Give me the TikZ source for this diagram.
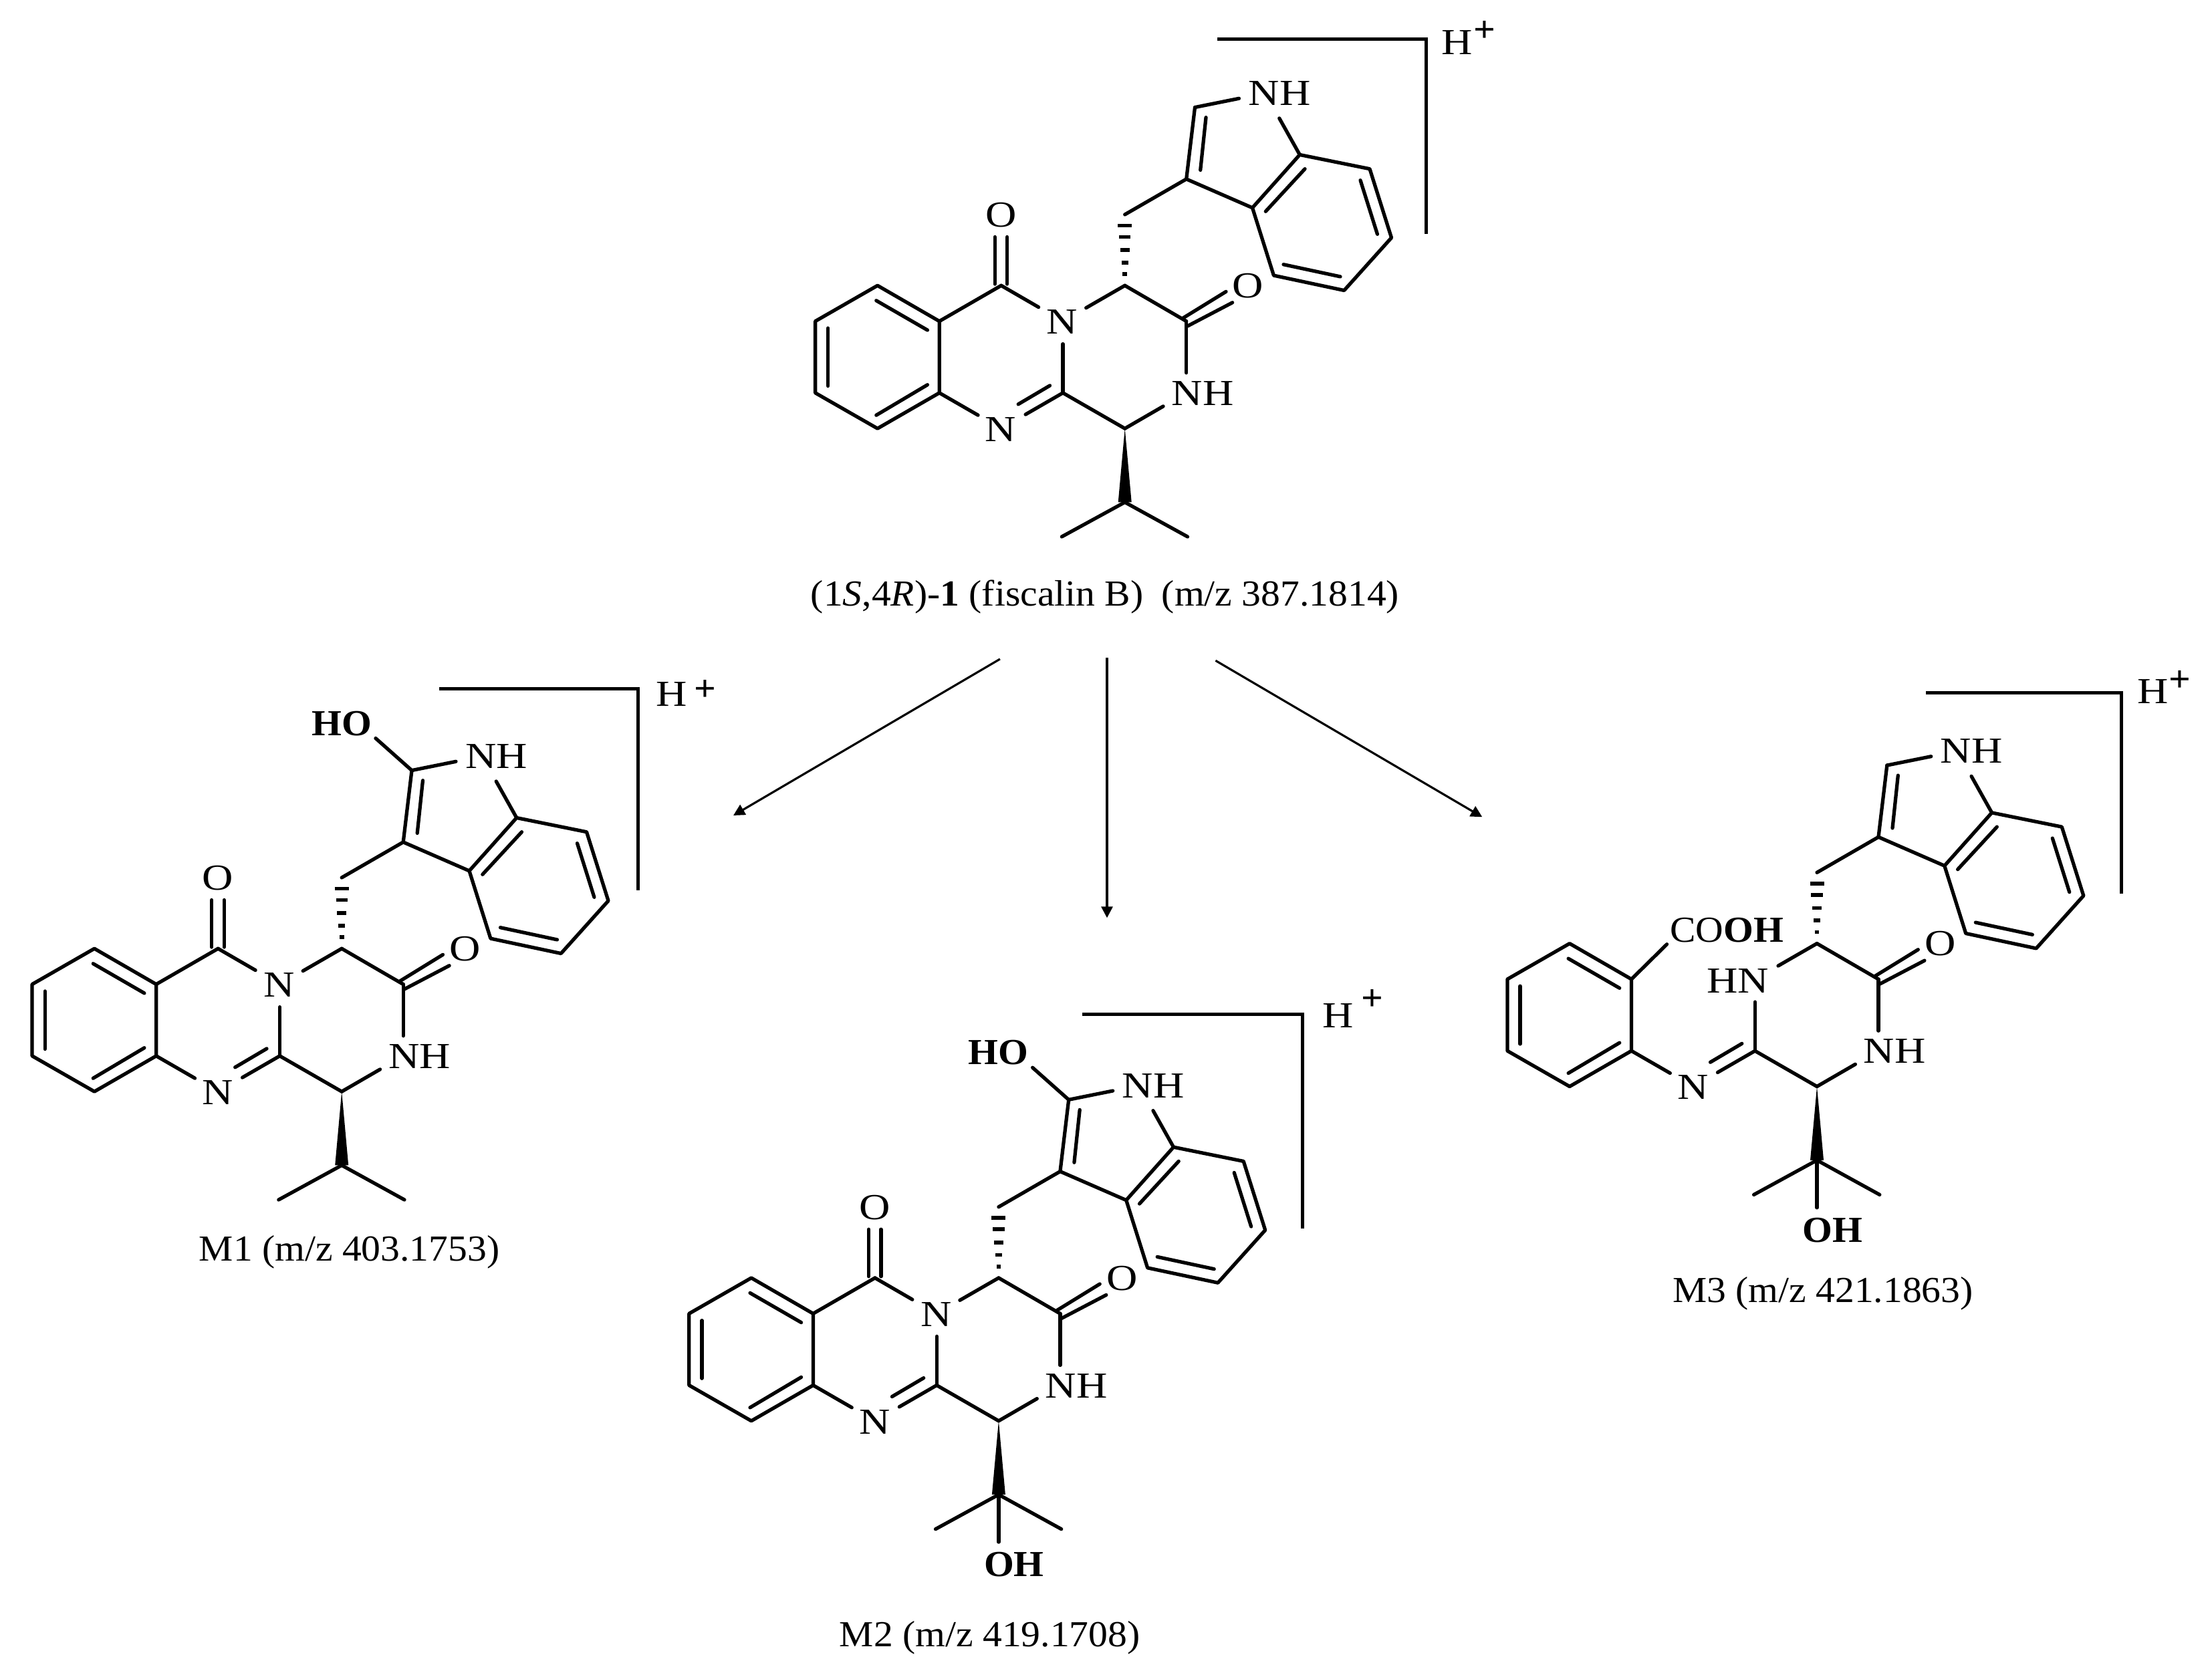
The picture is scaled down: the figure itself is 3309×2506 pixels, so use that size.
\documentclass[tikz,border=0pt]{standalone}
\usepackage{fontspec}
\setmainfont[FakeStretch=1.05]{Liberation Serif}
\newfontfamily\atomfont[FakeStretch=1.17]{Liberation Serif}
\usetikzlibrary{arrows.meta}
\newcommand\chemsize{\fontsize{15.6}{18}\selectfont}
\tikzset{
  bond/.style={line width=1.5pt,line cap=round,line join=round},
  gap/.style={shorten >=#1cm},
  hashbar/.style={line width=1.6pt,line cap=butt},
  atomlabel/.style={font=\chemsize\atomfont,inner sep=0pt,text height=0.37cm,text depth=0pt},
  boldlabel/.style={font=\chemsize\bfseries,inner sep=0pt,text height=0.37cm,text depth=0pt},
  caption/.style={font=\chemsize,inner sep=0pt,text height=0.37cm,text depth=0pt},
  pluslabel/.style={font=\chemsize\bfseries,inner sep=0pt},
  bracket/.style={line width=1.5pt,line join=miter,line cap=butt},
  reaction/.style={line width=0.9pt,-{Triangle[length=0.17cm,width=0.17cm]}}
}
% atom positions of the shared skeleton (local frame = upper molecule)
\newcommand\molatoms{%
  \coordinate (a1) at (1312.7,427.2);
  \coordinate (a2) at (1405.2,480.6);
  \coordinate (a3) at (1405.2,587.8);
  \coordinate (a4) at (1312.7,641.1);
  \coordinate (a5) at (1219.6,587.8);
  \coordinate (a6) at (1219.6,480.6);
  \coordinate (c7) at (1497.7,427.2);
  \coordinate (o7) at (1497.5,321);
  \coordinate (n3) at (1590,480.6);
  \coordinate (c2) at (1590,587.8);
  \coordinate (n1) at (1497.7,641.1);
  \coordinate (ch) at (1682.7,641.1);
  \coordinate (cs) at (1682.7,427.2);
  \coordinate (co) at (1774.7,480.6);
  \coordinate (nh) at (1774.7,587.8);
  \coordinate (ch2) at (1682.7,321);
  \coordinate (i3) at (1774.7,267.9);
  \coordinate (i2) at (1787.5,160.6);
  \coordinate (in) at (1892.7,139.4);
  \coordinate (i7a) at (1944.3,231.5);
  \coordinate (i3a) at (1873.5,310.9);
  \coordinate (i4) at (1905.4,412.1);
  \coordinate (i5) at (2010.7,434.5);
  \coordinate (i6) at (2081.5,355.7);
  \coordinate (i7) at (2049,252.7);
  \coordinate (ip) at (1682.7,751.4);
  \coordinate (me1) at (1588.3,803);
  \coordinate (me2) at (1776.5,803);
}
\newcommand\molcore{%
  \draw[bond] (a1)--(a2)--(a3)--(a4)--(a5)--(a6)--cycle;
  \draw[bond] (1310.8,449.7)--(1387.4,493.9);
  \draw[bond] (1387.4,575.7)--(1310.8,621.2);
  \draw[bond] (1238.7,490.9)--(1238.7,577.5);
  \draw[bond,gap=0.40] (a3)--(n1);
  \draw[bond,gap=0.42] (c2)--(n1);
  \draw[bond] (1570.5,576.9)--(1523.2,604.8);
  \draw[bond] (c2)--(ch);
  \draw[bond,gap=0.34] (c2)--(n3);
  \draw[bond,gap=0.40] (cs)--(n3);
  \draw[bond] (cs)--(co);
  \draw[bond,gap=0.30] (co)--(nh);
  \draw[bond,gap=0.40] (ch)--(nh);
  \draw[bond] (1770,475.7)--(1834,436.3);
  \draw[bond] (1776.6,487.8)--(1843.6,452.7);
  \draw[bond] (ch2)--(i3)--(i2);
  \draw[bond,gap=0.40] (i2)--(in);
  \draw[bond,gap=0.43] (i7a)--(in);
  \draw[bond] (i3)--(i3a)--(i4)--(i5)--(i6)--(i7)--(i7a)--(i3a);
  \draw[bond] (1804,175.7)--(1795.7,254.5);
  \draw[bond] (1952,252.7)--(1893.3,316.3);
  \draw[bond] (1920,395.7)--(2005,413.9);
  \draw[bond] (2060.4,350.3)--(2035,269.7);
  \foreach \yy/\ww in {337.5/10.5,354.5/8.7,374/6.9,392.7/5,410/3.3}
    \draw[hashbar] (1682.7-\ww,\yy)--(1682.7+\ww,\yy);
  \fill ([xshift=-0.1cm]ip)--(ch)--([xshift=0.1cm]ip)--cycle;
  \draw[bond] (me1)--(ip)--(me2);
  \node[atomlabel] (lbln1) at (1497,642) {N};
  \node[atomlabel] (lblnh) at (1799,588) {NH};
  \node[atomlabel] (lblo2) at (1867,427) {O};
  \node[atomlabel] (lblin) at (1914,139) {NH};
}
\newcommand\molring{%
  \draw[bond] (a2)--(c7);
  \draw[bond,gap=0.42] (c7)--(n3);
  \draw[bond] (1488.2,425)--(1488.2,354.5);
  \draw[bond] (1506.7,425)--(1506.7,354.5);
  \node[atomlabel] (lbln3) at (1589,481) {N};
  \node[atomlabel] (lblo7) at (o7) {O};
}
\newcommand\molho{%
  \coordinate (oh2) at (1706.5,88.6);
  \draw[bond,gap=0.36] (i2)--(oh2);
  \node[boldlabel] (lblho) at (1682.5,89.6) {HO};
}
\newcommand\molcoh{%
  \coordinate (oh3) at (1682.7,855.4);
  \draw[bond,gap=0.33] (ip)--(oh3);
  \node[boldlabel] (lbloh) at (1705.7,855.4) {OH};
}
\begin{document}
\begin{tikzpicture}[x=0.01cm,y=-0.01cm]
\useasboundingbox (0,0) rectangle (3309,2506);
% parent
\begin{scope}[name prefix=p-]
  \molatoms\molcore\molring
\end{scope}
\coordinate (pb1) at (1821.2,58.8);
\coordinate (pb2) at (2133.2,58.8);
\coordinate (pb3) at (2133.2,350.3);
\draw[bracket] (pb1)--(pb2)--(pb3);
\node[atomlabel] (ph) at (2180,63) {H};
\node[pluslabel] (pp) at (2221,47) {+};
\node[caption] (pcap) at (1653,888) {(1\textit{S},4\textit{R})-\textbf{1} (fiscalin B)\enspace (m/z 387.1814)};
% M1
\begin{scope}[shift={(-1171.5,992)},name prefix=m1-]
  \molatoms\molcore\molring\molho
\end{scope}
\coordinate (b1a) at (657.3,1030.3);
\coordinate (b1b) at (954.7,1030.3);
\coordinate (b1c) at (954.7,1331.5);
\draw[bracket] (b1a)--(b1b)--(b1c);
\node[atomlabel] (h1) at (1004.5,1037.6) {H};
\node[pluslabel] (p1) at (1054.4,1033.3) {+};
\node[caption] (cap1) at (522.6,1868) {M1 (m/z 403.1753)};
% M2
\begin{scope}[shift={(-188.8,1484.7)},name prefix=m2-]
  \molatoms\molcore\molring\molho\molcoh
\end{scope}
\coordinate (b2a) at (1619,1517.3);
\coordinate (b2b) at (1948.8,1517.3);
\coordinate (b2c) at (1948.8,1838);
\draw[bracket] (b2a)--(b2b)--(b2c);
\node[atomlabel] (h2) at (2001.4,1519.3) {H};
\node[pluslabel] (p2) at (2052.6,1496.4) {+};
\node[caption] (cap2) at (1480.7,2445.3) {M2 (m/z 419.1708)};
% M3
\begin{scope}[shift={(1035.3,984.4)},name prefix=m3-]
  \molatoms\molcore\molcoh
  \coordinate (cooh) at (1458.2,428.3);
  \draw[bond] (a2)--(cooh);
  \node[atomlabel] (lblhn) at (1564.3,482.3) {HN};
  \node[caption] (lblcooh) at (1548,406.8) {CO\textbf{OH}};
\end{scope}
\coordinate (b3a) at (2881,1036.6);
\coordinate (b3b) at (3173.8,1036.6);
\coordinate (b3c) at (3173.8,1336.5);
\draw[bracket] (b3a)--(b3b)--(b3c);
\node[atomlabel] (h3) at (3220.5,1034) {H};
\node[pluslabel] (p3) at (3260.8,1019) {+};
\node[caption] (cap3) at (2726.9,1930) {M3 (m/z 421.1863)};
% reaction arrows
\coordinate (s1) at (1495.9,986);
\coordinate (t1) at (1097,1220);
\coordinate (s2) at (1656,984);
\coordinate (t2) at (1656,1373.3);
\coordinate (s3) at (1818.4,988.3);
\coordinate (t3) at (2217.3,1222.3);
\draw[reaction] (s1)--(t1);
\draw[reaction] (s2)--(t2);
\draw[reaction] (s3)--(t3);
\end{tikzpicture}
\end{document}
